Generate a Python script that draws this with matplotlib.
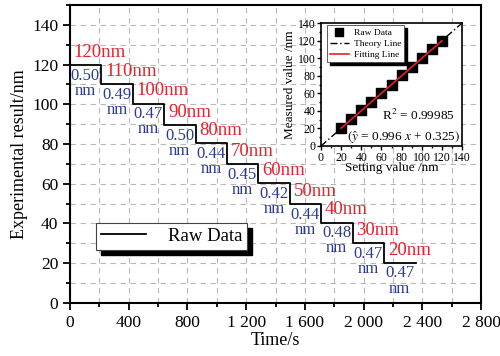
import matplotlib.pyplot as plt
from matplotlib.ticker import MultipleLocator
from matplotlib.patches import Rectangle

plt.rcParams['font.family'] = ['Liberation Serif', 'DejaVu Serif']
plt.rcParams['mathtext.fontset'] = 'stix'

# data
setting = [120, 110, 100, 90, 80, 70, 60, 50, 40, 30, 20]
measured = [119.8, 110.2, 100.4, 89.6, 80.4, 69.7, 60.3, 49.8, 40.5, 30.2, 20.3]
step_width = 214  # s
resolution = ["0.50", "0.49", "0.47", "0.50", "0.44", "0.45", "0.42", "0.44", "0.48", "0.47", "0.47"]
xticks = [0, 400, 800, 1200, 1600, 2000, 2400, 2800]
xtick_labels = ["0", "400", "800", "1 200", "1 600", "2 000", "2 400", "2 800"]
fit_slope = 0.996
fit_icept = 0.325

red = '#e8202a'
blue = '#2b3a96'

fig = plt.figure(figsize=(5, 3.56), dpi=100)
ax = fig.add_axes([0.14, 0.149, 0.822, 0.837])

# step curve
t_edges = [i * step_width for i in range(len(setting) + 1)]
ax.step(t_edges, measured + [measured[-1]], where='post', color='k', lw=1.3,
        label='Raw Data')

for i, (s, r) in enumerate(zip(setting, resolution)):
    t0 = t_edges[i]
    ax.text(t0 + 25, measured[i] + 6.3, f"{s}nm", color=red, fontsize=13.5,
            ha='left', va='center')
    ax.text(t0 + 105, measured[i] - 9.2, r + "\nnm", color=blue, fontsize=12,
            ha='center', va='center', multialignment='center', linespacing=0.95)

ax.set_xlim(0, 2800)
ax.set_ylim(0, 150)
ax.set_xticks(xticks)
ax.set_xticklabels(xtick_labels)
ax.set_yticks(range(0, 141, 20))
ax.xaxis.set_minor_locator(MultipleLocator(200))
ax.yaxis.set_minor_locator(MultipleLocator(10))
ax.tick_params(which='both', direction='out', width=1.3, labelsize=12.5)
ax.tick_params(which='major', length=5)
ax.tick_params(which='minor', length=3)
ax.grid(which='both', linestyle=(0, (5, 4)), color='#b8b8b8', lw=0.8)
ax.set_axisbelow(True)
for sp in ax.spines.values():
    sp.set_linewidth(1.5)
ax.set_xlabel("Time/s", fontsize=13, labelpad=1)
ax.set_ylabel("Experimental result/nm", fontsize=13, labelpad=3)

leg = ax.legend(loc='upper left', bbox_to_anchor=(0.063, 0.268), borderaxespad=0,
                fontsize=13.5, fancybox=False, handlelength=2.4, handletextpad=1.2,
                borderpad=0.25, framealpha=1, edgecolor='#444444')
leg.get_frame().set_linewidth(0.8)

# inset
ins = fig.add_axes([0.642, 0.59, 0.282, 0.345])
ins.plot([0, 140], [0, 140], color='k', lw=1.0, linestyle=(0, (5, 2, 1, 2)),
         label='Theory Line', zorder=2)
ins.plot([20, 120], [fit_slope * 20 + fit_icept, fit_slope * 120 + fit_icept],
         color=red, lw=1.2, label='Fitting Line', zorder=4)
ins.scatter(setting, measured, marker='s', s=55, color='k', label='Raw Data', zorder=3)
ins.set_xlim(0, 140)
ins.set_ylim(0, 140)
ins.set_xticks(range(0, 141, 20))
ins.set_yticks(range(0, 141, 20))
ins.xaxis.set_minor_locator(MultipleLocator(10))
ins.yaxis.set_minor_locator(MultipleLocator(10))
ins.tick_params(which='both', direction='out', labelsize=8.5, width=1, pad=1)
ins.tick_params(which='major', length=3)
ins.tick_params(which='minor', length=1.5)
for sp in ins.spines.values():
    sp.set_linewidth(1.2)
ins.set_xlabel("Setting value /nm", fontsize=9.5, labelpad=-1)
ins.set_ylabel("Measured value /nm", fontsize=9.5, labelpad=1)
h, l = ins.get_legend_handles_labels()
ileg = ins.legend([h[2], h[0], h[1]], [l[2], l[0], l[1]], loc='upper left',
                  bbox_to_anchor=(0.04, 0.985), borderaxespad=0, fontsize=6.8,
                  fancybox=False, framealpha=1, edgecolor='#444444',
                  handlelength=2.0, handletextpad=0.5, labelspacing=0.25,
                  borderpad=0.35, markerscale=0.8)
ileg.get_frame().set_linewidth(0.6)
ins.text(61, 35, r"R$^2$ = 0.99985", fontsize=9.5, ha='left', va='center')
ins.text(26, 10, r"$\left(\hat{y}\right.$ = 0.996 $x$ + 0.325$\left.\right)$",
         fontsize=9.5, ha='left', va='center')

# solid black drop shadows behind the legends
fig.canvas.draw()
for a, lg, off in [(ax, leg, 5), (ins, ileg, 3)]:
    bb = lg.get_frame().get_window_extent().transformed(fig.transFigure.inverted())
    dx = off / fig.bbox.width
    dy = off / fig.bbox.height
    a.add_artist(Rectangle((bb.x0 + dx, bb.y0 - dy), bb.width, bb.height,
                           transform=fig.transFigure, color='k', zorder=4.9,
                           clip_on=False))

fig.savefig("out.png", dpi=100)
